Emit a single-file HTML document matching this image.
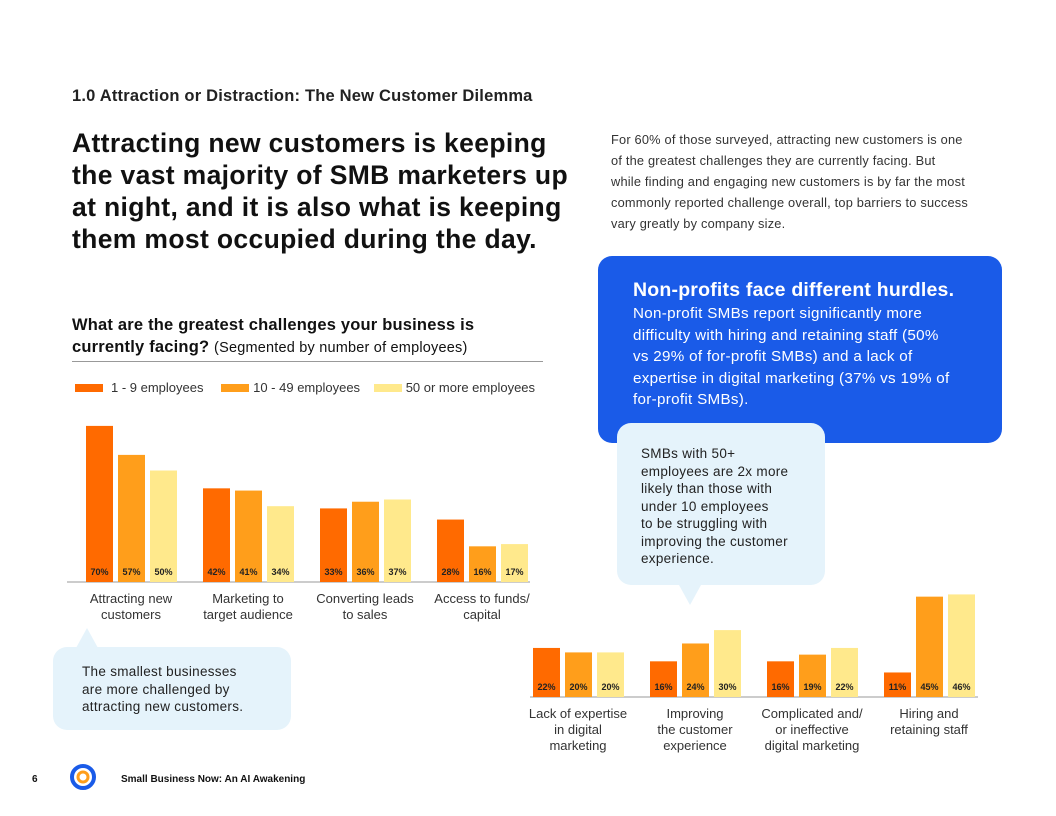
<!DOCTYPE html>
<html><head><meta charset="utf-8"><style>
body{margin:0;width:1056px;height:816px;background:#fff;font-family:"Liberation Sans",sans-serif;position:relative;overflow:hidden;color:#111}
.a{position:absolute;white-space:nowrap}
</style></head><body>
<div class="a" style="left:72px;top:87px;font-size:16.5px;font-weight:bold;color:#222;letter-spacing:0.2px">1.0 Attraction or Distraction: The New Customer Dilemma</div>
<div class="a" style="left:72px;top:127px;font-size:26.5px;font-weight:bold;line-height:32px;letter-spacing:0.35px">Attracting new customers is keeping<br>the vast majority of SMB marketers up<br>at night, and it is also what is keeping<br>them most occupied during the day.</div>
<div class="a" style="left:611px;top:129px;font-size:12.8px;line-height:21px;color:#333;letter-spacing:0.2px">For 60% of those surveyed, attracting new customers is one<br>of the greatest challenges they are currently facing. But<br>while finding and engaging new customers is by far the most<br>commonly reported challenge overall, top barriers to success<br>vary greatly by company size.</div>
<div class="a" style="left:598px;top:256px;width:404px;height:187px;background:#1a5be8;border-radius:14px;color:#fff">
<div style="position:absolute;left:35px;top:23px;font-size:19.5px;font-weight:bold;letter-spacing:0.2px">Non-profits face different hurdles.</div>
<div style="position:absolute;left:35px;top:47px;font-size:15.2px;line-height:21.5px;letter-spacing:0.3px">Non-profit SMBs report significantly more<br>difficulty with hiring and retaining staff (50%<br>vs 29% of for-profit SMBs) and a lack of<br>expertise in digital marketing (37% vs 19% of<br>for-profit SMBs).</div></div>
<div class="a" style="left:617px;top:423px;width:208px;height:162px;background:#e5f3fb;border-radius:14px">
<div style="position:absolute;left:24px;top:22px;font-size:13.5px;line-height:17.5px;color:#222;letter-spacing:0.3px">SMBs with 50+<br>employees are 2x more<br>likely than those with<br>under 10 employees<br>to be struggling with<br>improving the customer<br>experience.</div></div>
<div class="a" style="left:679px;top:585px;width:0;height:0;border-left:11px solid transparent;border-right:11px solid transparent;border-top:20px solid #e5f3fb"></div>
<div class="a" style="left:53px;top:647px;width:238px;height:83px;background:#e5f3fb;border-radius:14px">
<div style="position:absolute;left:29px;top:16px;font-size:13.5px;line-height:17.5px;color:#222;letter-spacing:0.3px">The smallest businesses<br>are more challenged by<br>attracting new customers.</div></div>
<div class="a" style="left:76px;top:628px;width:0;height:0;border-left:11px solid transparent;border-right:11px solid transparent;border-bottom:20px solid #e5f3fb"></div>
<div class="a" style="left:72px;top:314px;font-size:16.5px;font-weight:bold;line-height:22px;letter-spacing:0.2px">What are the greatest challenges your business is<br>currently facing? <span style="font-weight:normal;font-size:14.5px">(Segmented by number of employees)</span></div>
<div class="a" style="left:72px;top:361px;width:471px;height:1px;background:#999"></div>
<div class="a" style="left:75px;top:380px;font-size:13px;color:#333">
<span style="display:inline-block;width:28px;height:8px;background:#ff6a00;margin-right:8px"></span>1 - 9 employees
<span style="display:inline-block;width:28px;height:8px;background:#ff9e1b;margin:0 4px 0 14px"></span>10 - 49 employees
<span style="display:inline-block;width:28px;height:8px;background:#ffe98c;margin:0 4px 0 10px"></span>50 or more employees</div>
<svg class="a" style="left:0;top:0" width="1056" height="816" id="chart"></svg>
<div class="a" style="left:32px;top:774px;font-size:10px;font-weight:bold">6</div>
<svg class="a" style="left:68px;top:762px" width="30" height="30"><circle cx="15" cy="15" r="11" fill="none" stroke="#1a5be8" stroke-width="4"/><circle cx="15" cy="15" r="5" fill="none" stroke="#ff9e1b" stroke-width="3"/></svg>
<div class="a" style="left:121px;top:774px;font-size:10px;font-weight:bold">Small Business Now: An AI Awakening</div>
<script>
const cats1=["Attracting new|customers","Marketing to|target audience","Converting leads|to sales","Access to funds/|capital"];
const s1a=[70,42,33,28],s1b=[57,41,36,16],s1c=[50,34,37,17];
const cats2=["Lack of expertise|in digital|marketing","Improving|the customer|experience","Complicated and/|or ineffective|digital marketing","Hiring and|retaining staff"];
const s2a=[22,16,16,11],s2b=[20,24,19,45],s2c=[20,30,22,46];
const colors=["#ff6a00","#ff9e1b","#ffe98c"];
const svg=document.getElementById('chart');const NS="http://www.w3.org/2000/svg";
function mk(t,a){const e=document.createElementNS(NS,t);for(const k in a)e.setAttribute(k,a[k]);svg.appendChild(e);return e;}
function draw(cats,series,x0,base,axL,axR,name){
 const y=v=>base-v*2.23;
 const ax=mk('line',{x1:axL,x2:axR,y1:base,y2:base,stroke:'#999','stroke-width':1});
 
 
 cats.forEach((c,i)=>{
  const gx=x0+117*i;
  series.forEach((s,j)=>{
   const bx=gx+32*j;
   const r=mk('rect',{x:bx,y:y(s[i]),width:27,height:base-y(s[i]),fill:colors[j]});
   
   
   const t=mk('text',{x:bx+13.5,y:base-7,'text-anchor':'middle','font-size':9,'font-weight':'bold',fill:'#222'});
   t.textContent=s[i]+'%';
   
   
  });
  c.split('|').forEach((ln,k)=>{
   const t=mk('text',{x:gx+45,y:base+21+k*16,'text-anchor':'middle','font-size':13,fill:'#333'});
   t.textContent=ln;
   
   
  });
 });
}
draw(cats1,[s1a,s1b,s1c],86,582,67,530,'chart1');
draw(cats2,[s2a,s2b,s2c],533,697,530,978,'chart2');
</script>
</body></html>
